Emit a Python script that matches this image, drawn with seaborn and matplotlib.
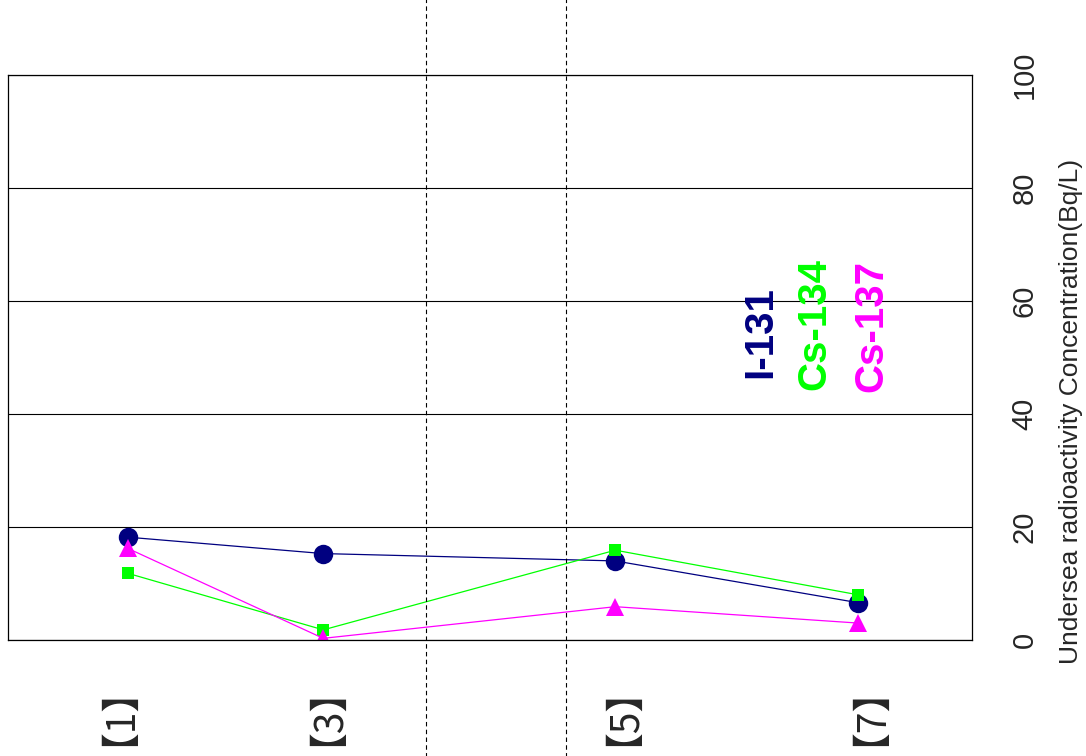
import numpy as np
import pandas as pd
import matplotlib
matplotlib.use('Agg')
import matplotlib.pyplot as plt
import matplotlib.transforms as mtransforms
import seaborn as sns

# data
positions = [12.45, 32.7, 63.0, 88.2]
label_x = [11.3, 32.9, 63.6, 89.2]
site_labels = ['【1】', '【3】', '【5】', '【7】']
i131 = [18.2, 15.3, 14.0, 6.6]
cs134 = [11.8, 1.8, 15.9, 8.0]
cs137 = [16.2, 0.3, 5.9, 3.0]
y_ticks = [0, 20, 40, 60, 80, 100]
divider_x = [43.4, 57.9]

sns.set_style("white")
plt.rcParams['font.family'] = ['Liberation Sans', 'Noto Sans CJK JP', 'DejaVu Sans']

df = pd.DataFrame({
    'pos': positions * 3,
    'value': i131 + cs134 + cs137,
    'nuclide': ['I-131'] * 4 + ['Cs-134'] * 4 + ['Cs-137'] * 4,
})
palette = {'I-131': '#000080', 'Cs-134': '#00ff00', 'Cs-137': '#ff00ff'}
markers = {'I-131': 'o', 'Cs-134': 's', 'Cs-137': '^'}
msizes = {'I-131': 14, 'Cs-134': 8, 'Cs-137': 13}

fig = plt.figure(figsize=(10.86, 7.56), dpi=100)
ax = fig.add_axes([0.0074, 0.1534, 0.8876, 0.7474])

for name in ['I-131', 'Cs-134', 'Cs-137']:
    sub = df[df['nuclide'] == name]
    sns.lineplot(data=sub, x='pos', y='value', ax=ax, color=palette[name],
                 marker=markers[name], markersize=msizes[name],
                 markeredgewidth=0, linewidth=0.9, legend=False)

ax.set_xlim(0, 100)
ax.set_ylim(0, 100)
ax.set_yticks(y_ticks)
ax.yaxis.grid(True, color='black', linewidth=0.8)
ax.xaxis.grid(False)
ax.yaxis.tick_right()
ax.yaxis.set_label_position('right')
ax.tick_params(axis='y', length=0, pad=28, labelsize=21, labelrotation=90)
for lab in ax.get_yticklabels():
    lab.set_va('center')
ax.set_xticks([])
ax.set_xlabel('')
ax.set_ylabel('Undersea radioactivity Concentration(Bq/L)', fontsize=19,
              rotation=90)
ax.yaxis.set_label_coords(1.09, 0.404)

# site labels below the axes (the CJK glyph box sits off-centre, so nudge left)
lab_trans = mtransforms.offset_copy(ax.get_xaxis_transform(), fig=fig,
                                    x=-18, y=0, units='dots')
for x, s in zip(label_x, site_labels):
    ax.text(x, -0.099, s, transform=lab_trans, rotation=90, ha='center',
            va='center', fontsize=28,
            family=['Noto Sans CJK JP', 'DejaVu Sans'], clip_on=False)

for sp in ax.spines.values():
    sp.set_color('black')
    sp.set_linewidth(0.9)

for x in divider_x:
    ax.axvline(x, ymin=-0.21, ymax=1.14, clip_on=False, color='black',
               linestyle='--', linewidth=0.8, dashes=(4, 3))

# series names written beside the lines
ax.text(78.0, 46.4, 'I-131', color='#000080', rotation=90, ha='center',
        va='bottom', fontsize=29, fontweight='bold')
ax.text(83.7, 44.2, 'Cs-134', color='#00ff00', rotation=90, ha='center',
        va='bottom', fontsize=29, fontweight='bold')
ax.text(89.6, 43.9, 'Cs-137', color='#ff00ff', rotation=90, ha='center',
        va='bottom', fontsize=29, fontweight='bold')

fig.savefig('out.png', dpi=100)
